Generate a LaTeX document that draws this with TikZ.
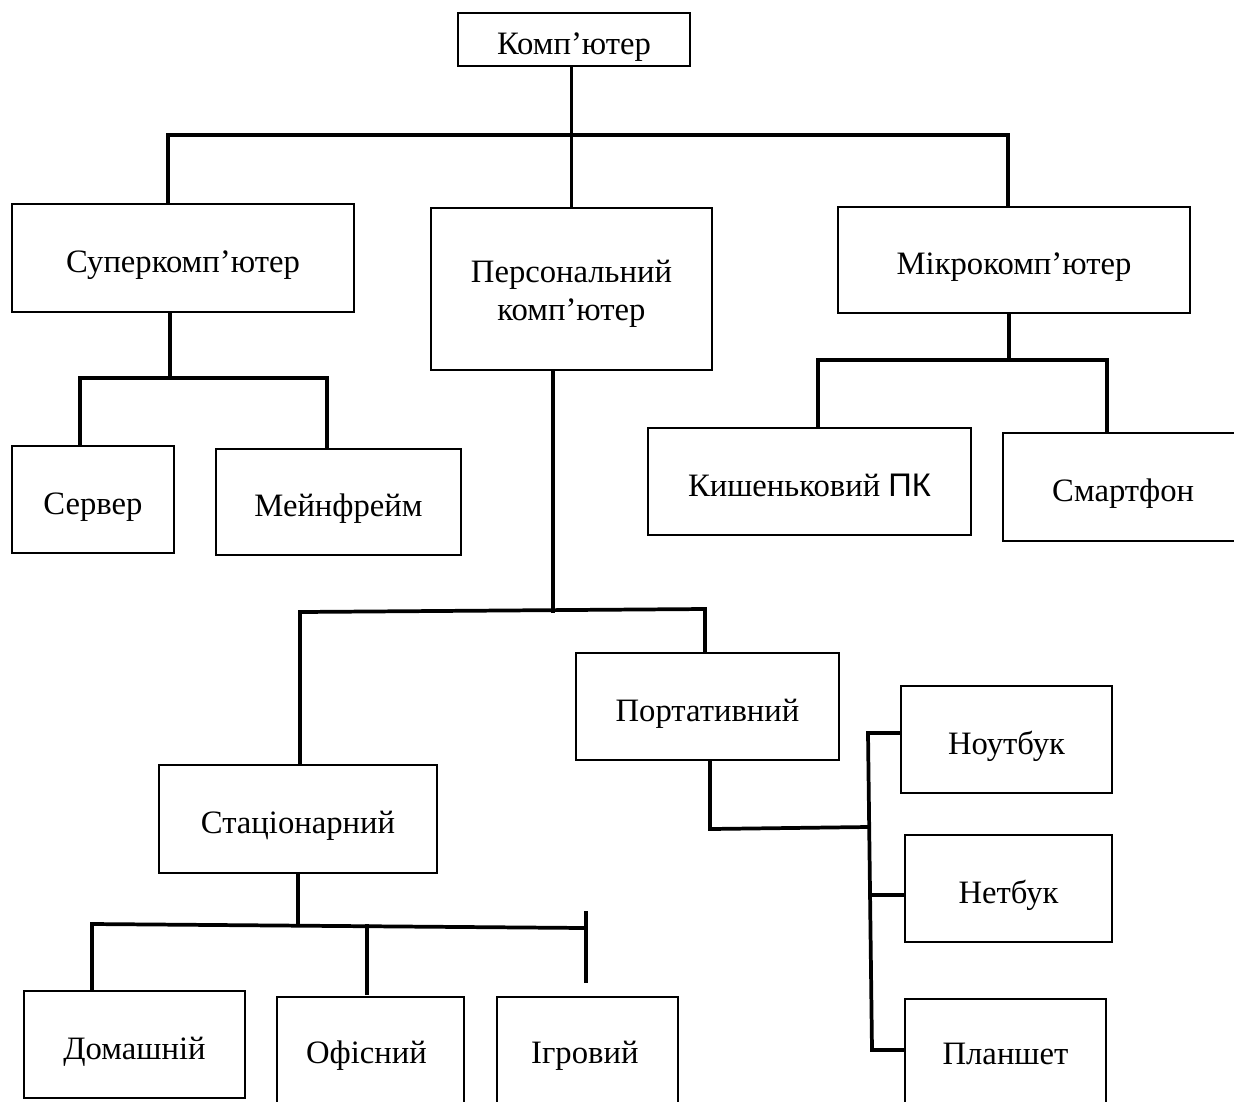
\documentclass[tikz,border=0pt]{standalone}
\usepackage{fontspec}
\setmainfont{Liberation Serif}
\newfontfamily\pksans{Liberation Sans}
\begin{document}
\begin{tikzpicture}[x=0.75pt,y=-0.75pt,
  box/.style={draw, line width=1.8pt, inner sep=0pt,
    text height=27pt, text depth=5pt,
    font=\fontsize{24.5}{28.5}\selectfont},
  link/.style={line width=2.8pt, line cap=rect}]
\useasboundingbox (0,0) rectangle (1234,1101);
\clip (0,0) rectangle (1234,1101);

% boxes
\node[box, minimum width=232*0.75pt, minimum height=53*0.75pt] (top) at (574,39.5) {Комп’ютер};
\node[box, minimum width=342*0.75pt, minimum height=108*0.75pt] (super) at (183,258) {Суперкомп’ютер};
\node[box, minimum width=281*0.75pt, minimum height=162*0.75pt,
  text height=50pt, text depth=3pt] (pers) at (571.5,289)
  {\begin{tabular}[b]{@{}c@{}}Персональний\\комп’ютер\end{tabular}};
\node[box, minimum width=352*0.75pt, minimum height=106*0.75pt] (micro) at (1014,260) {Мікрокомп’ютер};
\node[box, minimum width=162*0.75pt, minimum height=107*0.75pt] (server) at (93,499.5) {Сервер};
\node[box, minimum width=245*0.75pt, minimum height=106*0.75pt] (mainf) at (338.5,502) {Мейнфрейм};
\node[box, minimum width=323*0.75pt, minimum height=107*0.75pt] (pocket) at (809.5,481.5) {Кишеньковий {\pksans ПК}};
\node[box, minimum width=247*0.75pt, minimum height=108*0.75pt] (smart) at (1126.5,487) {\hspace*{-5pt}Смартфон};
\node[box, minimum width=263*0.75pt, minimum height=107*0.75pt] (port) at (707.5,706.5) {Портативний};
\node[box, minimum width=278*0.75pt, minimum height=108*0.75pt] (stat) at (298,819) {Стаціонарний};
\node[box, minimum width=211*0.75pt, minimum height=107*0.75pt] (note) at (1006.5,739.5) {Ноутбук};
\node[box, minimum width=207*0.75pt, minimum height=107*0.75pt] (net) at (1008.5,888.5) {Нетбук};
\node[box, minimum width=201*0.75pt, minimum height=111*0.75pt,
  text height=20pt] (tablet) at (1005.5,1054.5) {Планшет};
\node[box, minimum width=221*0.75pt, minimum height=107*0.75pt] (home) at (134.5,1044.5) {Домашній};
\node[box, minimum width=187*0.75pt, minimum height=111*0.75pt,
  text height=21pt] (office) at (370.5,1052.5) {\hspace*{-6pt}Офісний};
\node[box, minimum width=181*0.75pt, minimum height=111*0.75pt,
  text height=21pt] (game) at (587.5,1052.5) {\hspace*{-4pt}Ігровий};

% top level
\coordinate (b1) at (168,135);
\coordinate (b2) at (1008,135);
\draw[link] (pers.north |- top.south) -- (pers.north);
\draw[link] (super.north -| b1) -- (b1) -- (b2) -- (micro.north -| b2);

% supercomputer branch
\coordinate (s0) at (170,378);
\coordinate (s1) at (80,378);
\coordinate (s2) at (327,378);
\draw[link] (s0 |- super.south) -- (s0);
\draw[link] (server.north -| s1) -- (s1) -- (s2) -- (mainf.north -| s2);

% microcomputer branch
\coordinate (m0) at (1009,360);
\coordinate (m1) at (818,360);
\coordinate (m2) at (1107,360);
\draw[link] (m0 |- micro.south) -- (m0);
\draw[link] (pocket.north -| m1) -- (m1) -- (m2) -- (smart.north -| m2);

% personal computer branch
\coordinate (p0) at (553,611);
\coordinate (p1) at (300,612);
\coordinate (p2) at (705,609);
\draw[link] (p0 |- pers.south) -- (p0);
\draw[link] (stat.north -| p1) -- (p1) -- (p2) -- (port.north -| p2);

% portable branch
\coordinate (q0) at (710,829);
\coordinate (q1) at (868,827);
\coordinate (q2) at (868,733);
\coordinate (q3) at (872,1050);
\draw[link] (q0 |- port.south) -- (q0) -- (q1);
\draw[link] (q2 -| note.west) -- (q2) -- (q3) -- (q3 -| tablet.west);
\draw[link] (870,895) -- (net.west |- 0,895);

% stationary branch
\coordinate (t0) at (298,925);
\coordinate (t1) at (92,924);
\coordinate (t2) at (586,928);
\coordinate (t3) at (367,926);
\coordinate (t4) at (367,993);
\coordinate (t5) at (586,913);
\coordinate (t6) at (586,981);
\draw[link] (t0 |- stat.south) -- (t0);
\draw[link] (home.north -| t1) -- (t1) -- (t2);
\draw[link] (t3) -- (t4);
\draw[link] (t5) -- (t6);
\end{tikzpicture}
\end{document}
